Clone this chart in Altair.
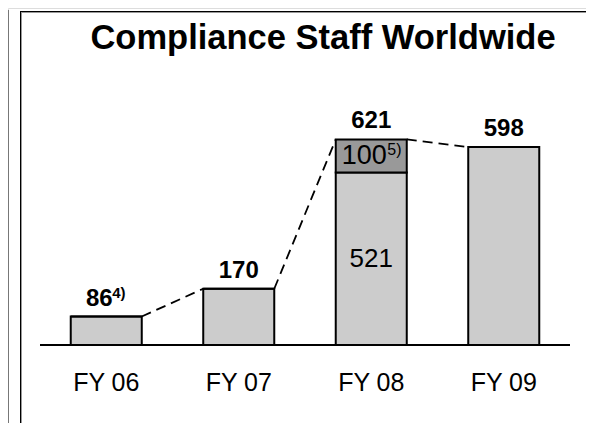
import altair as alt
import pandas as pd

years = ["FY 06", "FY 07", "FY 08", "FY 09"]
base_vals = [86, 170, 521, 598]
extra_vals = [0, 0, 100, 0]
totals = [86, 170, 621, 598]
total_notes = ["4)", "", "", ""]
extra_notes = ["", "", "5)", ""]
title_text = "Compliance Staff Worldwide"

FONT = "Liberation Sans"
HW = 0.268  # half bar width in band units
W, H = 578, 415

idx = list(range(len(years)))
df = pd.DataFrame({"pos": idx, "year": years, "base": base_vals, "extra": extra_vals,
                   "total": totals, "tnote": total_notes, "enote": extra_notes})

seg = pd.DataFrame({
    "pos": idx + idx,
    "y0": [0] * 4 + base_vals,
    "y1": base_vals + [b + e for b, e in zip(base_vals, extra_vals)],
    "part": ["base"] * 4 + ["extra"] * 4,
})

conn = pd.DataFrame({
    "p0": idx[:-1], "p1": idx[1:], "t0": totals[:-1], "t1": totals[1:],
})

xs = alt.Scale(domain=[-0.5, 3.5], range=[32, 562])
ys = alt.Scale(domain=[0, 1000], range=[337, 6])

bars = alt.Chart(seg).transform_calculate(
    xa="datum.pos - %f" % HW, xb="datum.pos + %f" % HW
).mark_bar(stroke="black", strokeWidth=2).encode(
    x=alt.X("xa:Q", scale=xs, axis=None),
    x2="xb:Q",
    y=alt.Y("y0:Q", scale=ys, axis=None),
    y2="y1:Q",
    fill=alt.Fill("part:N", scale=alt.Scale(domain=["base", "extra"], range=["#cccccc", "#999999"]), legend=None),
)

lines = alt.Chart(conn).transform_calculate(
    xa="datum.p0 + %f" % HW, xb="datum.p1 - %f" % HW
).mark_rule(color="black", strokeWidth=1.8, strokeDash=[10, 6]).encode(
    x=alt.X("xa:Q", scale=xs), x2="xb:Q",
    y=alt.Y("t0:Q", scale=ys), y2="t1:Q",
)

baseline = alt.Chart(pd.DataFrame({"a": [-0.5], "b": [3.5], "z": [0]})).mark_rule(
    color="black", strokeWidth=2
).encode(x=alt.X("a:Q", scale=xs), x2="b:Q", y=alt.Y("z:Q", scale=ys))

# total labels (bold)
has_note = "datum.tnote != ''"
tot_plain = alt.Chart(df).transform_filter("datum.tnote == ''").mark_text(
    font=FONT, fontSize=24, fontWeight="bold", dy=-11, baseline="alphabetic", color="black"
).encode(x=alt.X("pos:Q", scale=xs), y=alt.Y("total:Q", scale=ys), text="total:N")
tot_noted = alt.Chart(df).transform_filter(has_note).mark_text(
    font=FONT, fontSize=24, fontWeight="bold", dy=-11, dx=-7, baseline="alphabetic", color="black"
).encode(x=alt.X("pos:Q", scale=xs), y=alt.Y("total:Q", scale=ys), text="total:N")
tot_sup = alt.Chart(df).transform_filter(has_note).mark_text(
    font=FONT, fontSize=15, fontWeight="bold", dy=-19, dx=6, align="left", baseline="alphabetic", color="black"
).encode(x=alt.X("pos:Q", scale=xs), y=alt.Y("total:Q", scale=ys), text="tnote:N")

# segment labels
seg_df = df[df["extra"] > 0].copy()
seg_df["mid_base"] = seg_df["base"] / 2
seg_df["mid_extra"] = seg_df["base"] + seg_df["extra"] / 2
base_lbl = alt.Chart(seg_df).mark_text(
    font=FONT, fontSize=26, baseline="middle", color="black"
).encode(x=alt.X("pos:Q", scale=xs), y=alt.Y("mid_base:Q", scale=ys), text="base:N")
extra_lbl = alt.Chart(seg_df).mark_text(
    font=FONT, fontSize=27, baseline="middle", dx=-7, color="black"
).encode(x=alt.X("pos:Q", scale=xs), y=alt.Y("mid_extra:Q", scale=ys), text="extra:N")
extra_sup = alt.Chart(seg_df).mark_text(
    font=FONT, fontSize=16, baseline="middle", align="left", dx=16, dy=-6, color="black"
).encode(x=alt.X("pos:Q", scale=xs), y=alt.Y("mid_extra:Q", scale=ys), text="enote:N")

# category labels
cat_lbl = alt.Chart(df).mark_text(
    font=FONT, fontSize=25, baseline="alphabetic", color="black"
).encode(x=alt.X("pos:Q", scale=xs), y=alt.value(383), text="year:N")

title = alt.Chart(pd.DataFrame({"t": [title_text]})).mark_text(
    font=FONT, fontSize=34.5, fontWeight="bold", baseline="alphabetic", color="black"
).encode(x=alt.value(315), y=alt.value(41), text="t:N")

# frame decoration
one = pd.DataFrame({"k": [0]})
frame = [
    alt.Chart(one).mark_rule(color="#000000", strokeWidth=1).encode(
        x=alt.value(12.5), y=alt.value(3), y2=alt.value(H)),
    alt.Chart(one).mark_rule(color="#999999", strokeWidth=1).encode(
        x=alt.value(13.5), y=alt.value(4), y2=alt.value(H)),
    alt.Chart(one).mark_rule(color="#000000", strokeWidth=1).encode(
        x=alt.value(12), x2=alt.value(W), y=alt.value(3.5)),
    alt.Chart(one).mark_rule(color="#999999", strokeWidth=1).encode(
        x=alt.value(13), x2=alt.value(W), y=alt.value(4.5)),
    alt.Chart(one).mark_rule(color="#777777", strokeWidth=1).encode(
        x=alt.value(0.5), y=alt.value(2), y2=alt.value(H)),
]

chart = alt.layer(
    *frame, bars, lines, baseline, tot_plain, tot_noted, tot_sup,
    base_lbl, extra_lbl, extra_sup, cat_lbl, title
).properties(
    width=W, height=H,
    padding={"left": 0, "top": 0, "right": 0, "bottom": 0},
    autosize=alt.AutoSizeParams(type="none"),
).configure_view(stroke="transparent", strokeWidth=0).configure(background="white")

chart.save("out.html", embed_options={"renderer": "svg", "actions": False})
